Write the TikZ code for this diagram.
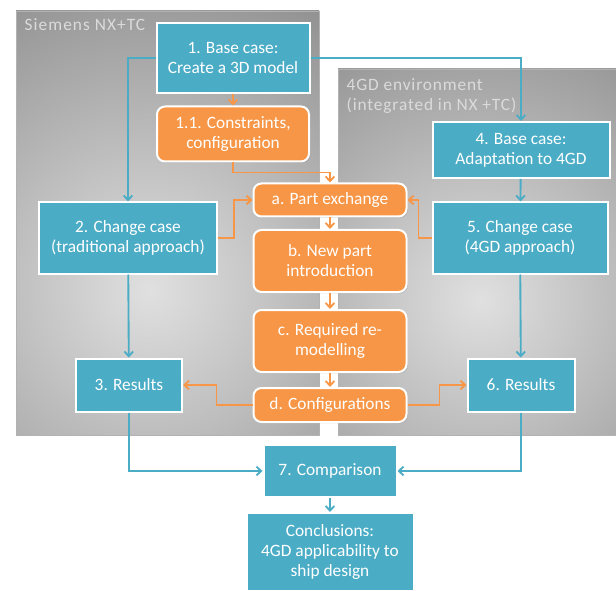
\documentclass[tikz,border=0pt]{standalone}
\usepackage{fontspec}
\setmainfont{Carlito}
\usetikzlibrary{shadows,arrows.meta}
\definecolor{bluebox}{HTML}{4BACC6}
\definecolor{orangebox}{HTML}{F79646}
\definecolor{paneldark}{HTML}{747474}
\definecolor{panellight}{HTML}{E0E0E0}

\begin{document}
\begin{tikzpicture}[x=0.75pt,y=-0.75pt,font=\fontsize{13}{15}\selectfont,
  blubox/.style={fill=bluebox,draw=white,line width=1.5pt,text=white,align=center,
   inner sep=0pt,drop shadow={opacity=0.25,shadow xshift=1pt,shadow yshift=-1pt}},
  orabox/.style={blubox,fill=orangebox,rounded corners=6pt},
  bluline/.style={draw=bluebox,line width=1.4pt,-{Straight Barb[length=3.5pt,width=6.5pt]}},
  oraline/.style={bluline,draw=orangebox},
  panellbl/.style={text=white!86!black}]
 \useasboundingbox (0,0) rectangle (616,591);
 % the two environments
 \begin{scope}
  \clip (16,11) rectangle (319,435);
  \fill[paneldark] (16,11) rectangle (319,435);
  \shade[inner color=panellight,outer color=paneldark] (150,290) circle (450);
 \end{scope}
 \draw[gray!60,line width=0.5pt] (16,11) rectangle (319,435);
 \begin{scope}
  \clip (338,69) rectangle (616,435);
  \fill[paneldark] (338,69) rectangle (616,435);
  \shade[inner color=panellight,outer color=paneldark] (480,300) circle (410);
 \end{scope}
 \draw[gray!60,line width=0.5pt] (338,69) rectangle (616,435);
 \node[panellbl,anchor=west,font=\fontsize{13}{15}\selectfont\addfontfeature{LetterSpace=6}]
  (lblnx) at (20,25) {Siemens NX+TC};
 \node[panellbl,anchor=north west,align=left,
  font=\fontsize{13}{15}\selectfont\addfontfeature{LetterSpace=5}] (lblgd) at (342,74)
  {4GD environment\\(integrated in NX +TC)};
 % blue steps
 \node[blubox,minimum width=114.75pt,minimum height=52.5pt] (base) at (233,58)
  {1. Base case:\\Create a 3D model};
 \node[blubox,minimum width=133.5pt,minimum height=53.25pt] (chgtrad) at (128,238)
  {2. Change case\\(traditional approach)};
 \node[blubox,minimum width=79.5pt,minimum height=39.75pt] (restrad) at (129,385)
  {3. Results};
 \node[blubox,minimum width=132.75pt,minimum height=42pt] (basegd) at (521,150)
  {4. Base case:\\Adaptation to 4GD};
 \node[blubox,minimum width=131.25pt,minimum height=53.25pt] (chggd) at (520,238)
  {5. Change case\\(4GD approach)};
 \node[blubox,minimum width=80.25pt,minimum height=39.75pt] (resgd) at (521,385)
  {6. Results};
 \node[blubox,minimum width=99.75pt,minimum height=39pt] (compare) at (330,471)
  {7. Comparison};
 \node[blubox,minimum width=125.25pt,minimum height=58.5pt] (concl) at (330,552)
  {Conclusions:\\4GD applicability to\\ship design};
 % orange steps
 \node[orabox,minimum width=114pt,minimum height=41.25pt] (constr) at (233,134)
  {1.1. Constraints,\\configuration};
 \node[orabox,minimum width=114.75pt,minimum height=24.75pt] (partex) at (330,200)
  {a. Part exchange};
 \node[orabox,minimum width=114.75pt,minimum height=46.5pt] (newpart) at (330,261)
  {b. New part\\introduction};
 \node[orabox,minimum width=114.75pt,minimum height=46.5pt] (remod) at (330,341)
  {c. Required re-\\modelling};
 \node[orabox,minimum width=114.75pt,minimum height=25.5pt] (config) at (330,405)
  {d. Configurations};
 % connectors
 \draw[bluline] (base.west) -| (chgtrad.north);
 \draw[bluline] (base.east) -| (basegd.north);
 \draw[bluline] (chgtrad) -- (restrad);
 \draw[bluline] (basegd) -- (chggd);
 \draw[bluline] (chggd) -- (resgd);
 \draw[bluline] (restrad.south) |- (compare.west);
 \draw[bluline] (resgd.south) |- (compare.east);
 \draw[bluline] (compare) -- (concl);
 \draw[oraline] (base) -- (constr);
 \draw[oraline] (constr.south) -- ++(0,10) -| (partex.north);
 \draw[oraline] (chgtrad.east) -- ++(16,0) |- (partex.west);
 \draw[oraline] (chggd.west) -- ++(-13,0) |- (partex.east);
 \draw[oraline] (partex) -- (newpart);
 \draw[oraline] (newpart) -- (remod);
 \draw[oraline] (remod) -- (config);
 \draw[oraline] (config.west) -- ++(-36,0) |- (restrad.east);
 \draw[oraline] (config.east) -- ++(32,0) |- (resgd.west);
\end{tikzpicture}
\end{document}
